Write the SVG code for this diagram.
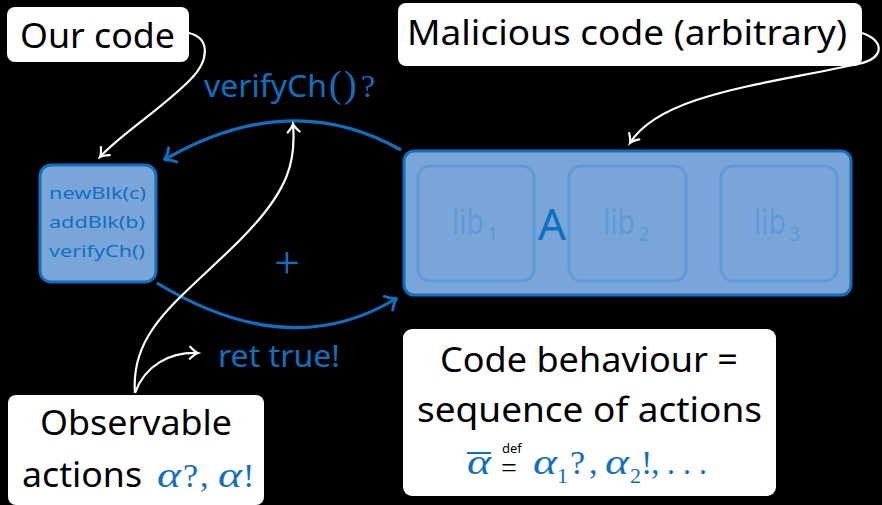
<svg xmlns="http://www.w3.org/2000/svg" width="882" height="505" viewBox="0 0 882 505">
<style>
.sans{font-family:"Noto Sans","Open Sans","Liberation Sans",sans-serif}
.math{font-family:"Liberation Serif","DejaVu Serif",serif}
.it{font-style:italic}
.blk{fill:#000}
.blue{fill:#1070c0}
.wbox{fill:#fff}
.wire{fill:none;stroke:#fff;stroke-width:2.2}
.bwire{fill:none;stroke:#1070c0;stroke-width:3.2}
.lib{fill:none;stroke:#5f9bd8;stroke-width:3}
.libt{fill:#5f9ad6}
</style>
<defs>
<marker id="wh" markerUnits="userSpaceOnUse" markerWidth="20" markerHeight="20" refX="0" refY="0" viewBox="-10 -10 20 20" orient="auto">
<path d="M-8,-6 Q-3,-1 0,0 Q-3,1 -8,6" fill="none" stroke="#fff" stroke-width="2.2" stroke-linecap="round"/>
</marker>
<marker id="bh" markerUnits="userSpaceOnUse" markerWidth="24" markerHeight="24" refX="0" refY="0" viewBox="-12 -12 24 24" orient="auto">
<path d="M-10,-8 Q-4,-1 0,0 Q-4,1 -10,8" fill="none" stroke="#1070c0" stroke-width="3" stroke-linecap="round"/>
</marker>
</defs>
<rect x="0" y="0" width="882" height="505" fill="#000"/>

<g id="connectors">
<path class="bwire" d="M401,150 Q290,87 164,160" marker-end="url(#bh)"/>
<path class="bwire" d="M157,283 Q290,364 397,298" marker-end="url(#bh)"/>
<path class="wire" d="M189,33 C210,38 210,60 190,80 C160,110 120,135 100,157" marker-end="url(#wh)"/>
<path class="wire" d="M862,33 C884,40 886,58 858,64 C760,85 660,95 630,143" marker-end="url(#wh)"/>
<path class="wire" d="M135,393 C130,330 180,300 240,240 C290,190 296,160 293,124" marker-end="url(#wh)"/>
<path class="wire" d="M135,393 C145,365 170,352 198,353" marker-end="url(#wh)"/>
</g>

<g id="our-code">
<rect class="wbox" x="7" y="7" width="182" height="55" rx="8"/>
<text class="sans blk" x="20" y="48" font-size="35" textLength="155" lengthAdjust="spacingAndGlyphs">Our code</text>
</g>

<g id="malicious">
<rect class="wbox" x="398" y="3" width="464" height="63" rx="8"/>
<text class="sans blk" x="407" y="45" font-size="35" textLength="440" lengthAdjust="spacingAndGlyphs">Malicious code (arbitrary)</text>
</g>

<g id="verify-label">
<text class="sans blue" x="204" y="97" font-size="30" textLength="123" lengthAdjust="spacingAndGlyphs">verifyCh</text>
<text class="math blue" x="329" y="97" font-size="38">(</text>
<text class="math blue" x="344" y="97" font-size="38">)</text>
<text class="math blue" x="361" y="97" font-size="32">?</text>
</g>

<g id="our-box">
<rect x="40" y="165" width="116" height="117" rx="11" fill="#7aa5d9" stroke="#1070c0" stroke-width="3"/>
<text class="sans blue" x="49" y="199" font-size="17" textLength="97" lengthAdjust="spacingAndGlyphs">newBlk(c)</text>
<text class="sans blue" x="49" y="228" font-size="17" textLength="96" lengthAdjust="spacingAndGlyphs">addBlk(b)</text>
<text class="sans blue" x="49" y="257" font-size="17" textLength="96" lengthAdjust="spacingAndGlyphs">verifyCh()</text>
</g>

<g id="plus">
<text class="math blue" x="287" y="278" font-size="46" text-anchor="middle">+</text>
</g>

<g id="attacker">
<rect x="404" y="151" width="447" height="144" rx="10" fill="#7aa5d9" stroke="#1070c0" stroke-width="3"/>
<rect class="lib" x="418" y="166" width="116" height="115" rx="12"/>
<rect class="lib" x="569" y="166" width="117" height="115" rx="12"/>
<rect class="lib" x="721" y="166" width="116" height="115" rx="12"/>
<text class="sans libt" x="452" y="234" font-size="34" textLength="32" lengthAdjust="spacingAndGlyphs">lib</text>
<text class="sans libt" x="487" y="241" font-size="20">1</text>
<text class="sans libt" x="603" y="234" font-size="34" textLength="32" lengthAdjust="spacingAndGlyphs">lib</text>
<text class="sans libt" x="638" y="241" font-size="20">2</text>
<text class="sans libt" x="754" y="234" font-size="34" textLength="32" lengthAdjust="spacingAndGlyphs">lib</text>
<text class="sans libt" x="789" y="241" font-size="20">3</text>
<text class="sans blue" x="538" y="240" font-size="44" textLength="28" lengthAdjust="spacingAndGlyphs">A</text>
</g>

<g id="ret-label">
<text class="sans blue" x="218" y="367" font-size="30" textLength="122" lengthAdjust="spacingAndGlyphs">ret true!</text>
</g>

<g id="observable">
<rect class="wbox" x="8" y="395" width="256" height="110" rx="8"/>
<text class="sans blk" x="40" y="435" font-size="35" textLength="192" lengthAdjust="spacingAndGlyphs">Observable</text>
<text class="sans blk" x="22" y="487" font-size="35" textLength="120" lengthAdjust="spacingAndGlyphs">actions</text>
<text class="math it blue" x="157" y="487" font-size="36" textLength="24" lengthAdjust="spacingAndGlyphs">α</text>
<text class="math blue" x="183" y="487" font-size="34">?</text>
<text class="math blue" x="200" y="487" font-size="34">,</text>
<text class="math it blue" x="218" y="487" font-size="36" textLength="24" lengthAdjust="spacingAndGlyphs">α</text>
<text class="math blue" x="243" y="487" font-size="34">!</text>
</g>

<g id="behaviour">
<rect class="wbox" x="403" y="329" width="373" height="167" rx="9"/>
<text class="sans blk" x="440" y="372" font-size="35" textLength="298" lengthAdjust="spacingAndGlyphs">Code behaviour =</text>
<text class="sans blk" x="417" y="422" font-size="35" textLength="345" lengthAdjust="spacingAndGlyphs">sequence of actions</text>
<line x1="467" y1="453" x2="491" y2="453" stroke="#1070c0" stroke-width="2"/>
<text class="math it blue" x="467" y="474" font-size="36" textLength="24" lengthAdjust="spacingAndGlyphs">α</text>
<text class="sans blk" x="502" y="453" font-size="13">def</text>
<text class="math blk" x="501" y="477" font-size="28">=</text>
<text class="math it blue" x="533" y="474" font-size="36" textLength="24" lengthAdjust="spacingAndGlyphs">α</text>
<text class="math blue" x="557" y="483" font-size="22">1</text>
<text class="math blue" x="570" y="474" font-size="34">?</text>
<text class="math blue" x="589" y="474" font-size="34">,</text>
<text class="math it blue" x="605" y="474" font-size="36" textLength="24" lengthAdjust="spacingAndGlyphs">α</text>
<text class="math blue" x="630" y="483" font-size="22">2</text>
<text class="math blue" x="641" y="474" font-size="34">!</text>
<text class="math blue" x="651" y="474" font-size="34">,</text>
<text class="math blue" x="667" y="474" font-size="34" textLength="40" lengthAdjust="spacingAndGlyphs">. . .</text>
</g>
</svg>
